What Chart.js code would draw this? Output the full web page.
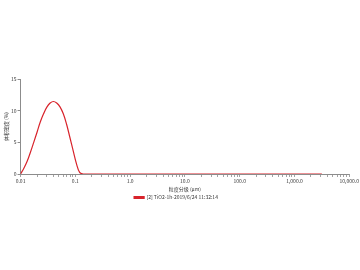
<!DOCTYPE html>
<html><head><meta charset="utf-8">
<script src="https://cdn.jsdelivr.net/npm/chart.js@4"></script>
<style>html,body{margin:0;padding:0;background:#fff}#w{width:360px;height:270px}</style>
</head><body><div id="w"><canvas id="c" width="360" height="270"></canvas></div>
<script>
const sizes = [0.0100,0.0115,0.0132,0.0151,0.0174,0.0200,0.0229,0.0263,0.0302,0.0347,0.0398,0.0457,0.0525,0.0603,0.0692,0.0794,0.0912,0.105,0.120,0.138,0.158,3162];
const volumeDensity = [0.0,0.9,2.0,3.4,5.0,6.6,8.2,9.5,10.55,11.2,11.45,11.2,10.6,9.5,7.85,5.8,3.7,1.6,0.25,0.0,0.0,0.0];
const seriesName = "[2] TiO2-1h-2019/6/24 11:32:14";
const xTickValues = [0.01,0.1,1,10,100,1000,10000];
const xTickLabels = ["0.01","0.1","1.0","10.0","100.0","1,000.0","10,000.0"];
const yTicks = [0,5,10,15];
const xTitle = "粒度分级 (μm)";
const yTitle = "体积密度 (%)";

const FONT = "'Noto Sans CJK SC','Liberation Sans',sans-serif";
const AX = '#8c8c8c';
new Chart(document.getElementById('c'), {
  type: 'line',
  data: { datasets: [{
    label: seriesName,
    data: sizes.map((x,i)=>({x:x,y:volumeDensity[i]})),
    borderColor: '#d8232b', backgroundColor: '#d8232b',
    borderWidth: 1.2, pointRadius: 0, tension: 0.4, fill: false
  }]},
  options: {
    responsive: false, animation: false, devicePixelRatio: 1,
    layout: { padding: { top: 79, right: 10, left: 2, bottom: 60 } },
    plugins: {
      tooltip: {enabled:false},
      legend: { position: 'bottom', labels: { boxWidth: 10, boxHeight: 2, padding: 2, color:'#333', font: {size: 5, family: FONT} } }
    },
    scales: {
      x: {
        type: 'logarithmic', min: 0.01, max: 10000,
        afterBuildTicks: s => {
          const t = [];
          for (let d = 0; d < xTickValues.length; d++) {
            t.push({value: xTickValues[d], major: true});
            if (d < xTickValues.length-1) for (let m = 2; m <= 9; m++) t.push({value: xTickValues[d]*m});
          }
          s.ticks = t;
        },
        ticks: { autoSkip: false, maxRotation: 0, padding: 1, color: '#333', font: {size: 5, family: FONT},
          callback: (v) => { const i = xTickValues.findIndex(d => Math.abs(d - v) / d < 1e-6); return i >= 0 ? xTickLabels[i] : ''; } },
        grid: { drawOnChartArea: false, drawTicks: true, tickLength: 3, color: AX, lineWidth: 0.8 },
        border: { color: AX, width: 1 },
        title: { display: true, text: xTitle, color:'#333', font: {size: 5, family: FONT}, padding: {top: 1, bottom: 1} }
      },
      y: {
        min: 0, max: 15,
        afterBuildTicks: s => { s.ticks = yTicks.map(v => ({value: v})); },
        ticks: { padding: 1, color:'#333', font: {size: 5, family: FONT} },
        grid: { drawOnChartArea: false, drawTicks: true, tickLength: 3, color: AX },
        border: { color: AX, width: 1 },
        title: { display: true, text: yTitle, color:'#333', font: {size: 5, family: FONT}, padding: 1 }
      }
    }
  }
});
</script></body></html>
